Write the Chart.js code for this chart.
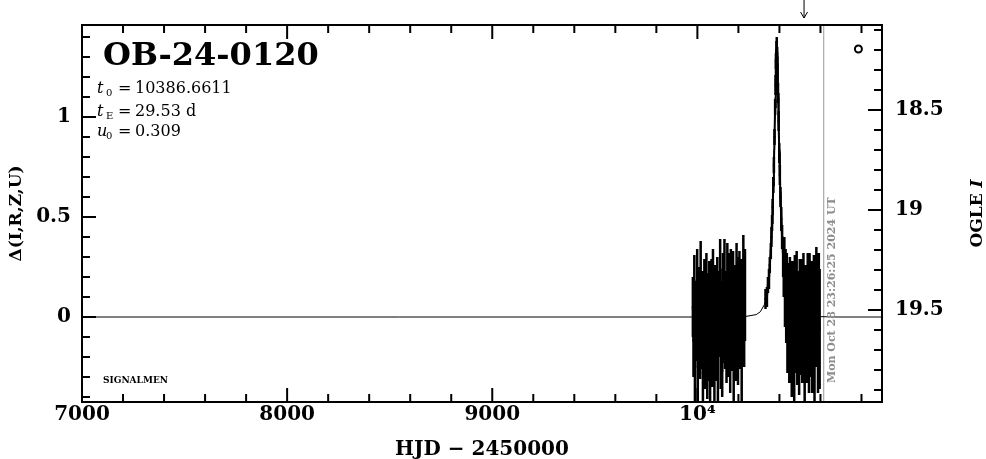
<!DOCTYPE html>
<html lang="en">
<head>
<meta charset="UTF-8">
<title>OB-24-0120</title>
<script src="https://cdn.jsdelivr.net/npm/chart.js"></script>
<style>
  html, body { margin: 0; padding: 0; background: #fff; }
  canvas { display: block; }
</style>
</head>
<body>
<canvas id="lc" width="986" height="459"></canvas>
<script>
// OGLE photometry, 2023 season (baseline)
const hjd2023 = [9978, 9981, 9985, 9988, 9992, 9995, 9999, 10002, 10006, 10009,
  10013, 10016, 10020, 10023, 10027, 10030, 10034, 10037, 10041, 10044,
  10048, 10051, 10055, 10058, 10062, 10065, 10069, 10072, 10076, 10079,
  10083, 10086, 10090, 10093, 10097, 10100, 10104, 10107, 10111, 10114,
  10118, 10121, 10125, 10128, 10132, 10135, 10139, 10142, 10146, 10149,
  10153, 10156, 10160, 10163, 10167, 10170, 10174, 10177, 10181, 10184,
  10188, 10191, 10195, 10198, 10202, 10205, 10209, 10212, 10216, 10220,
  10224, 10228, 10232];
const dmag2023 = [0.05, -0.12, 0.18, -0.21, 0.02, -0.08, 0.15, -0.25, 0.10, -0.03,
  -0.18, 0.22, -0.06, 0.08, -0.28, 0.04, 0.12, -0.15, -0.01, 0.19,
  -0.22, 0.06, -0.10, 0.14, -0.30, 0.00, 0.09, -0.17, 0.21, -0.05,
  -0.24, 0.11, 0.03, -0.13, 0.16, -0.20, 0.07, -0.02, 0.24, -0.16,
  0.01, -0.27, 0.13, -0.07, 0.18, -0.11, 0.05, -0.19, 0.20, -0.04,
  -0.14, 0.10, -0.23, 0.15, 0.02, -0.09, 0.17, -0.26, 0.06, 0.12,
  -0.12, 0.22, -0.03, -0.18, 0.08, 0.19, -0.08, 0.14, -0.21, 0.04,
  0.25, -0.06, 0.11];
const err2023 = [0.15, 0.18, 0.13, 0.21, 0.16, 0.14, 0.19, 0.17, 0.15, 0.22,
  0.13, 0.16, 0.20, 0.15, 0.18, 0.14, 0.17, 0.21, 0.15, 0.13,
  0.19, 0.16, 0.22, 0.14, 0.17, 0.15, 0.20, 0.18, 0.13, 0.16,
  0.21, 0.15, 0.17, 0.19, 0.14, 0.22, 0.16, 0.18, 0.15, 0.20,
  0.17, 0.13, 0.19, 0.16, 0.21, 0.15, 0.18, 0.14, 0.17, 0.20,
  0.16, 0.22, 0.15, 0.19, 0.13, 0.18, 0.16, 0.21, 0.17, 0.14,
  0.20, 0.15, 0.19, 0.16, 0.22, 0.14, 0.18, 0.15, 0.21, 0.17,
  0.16, 0.19, 0.23];

// 2024 season (event and after)
const hjd2024 = [10332, 10339, 10344, 10349, 10353, 10358, 10361, 10364, 10367, 10370,
  10373, 10376, 10379, 10381, 10383, 10385, 10387, 10389, 10391, 10393,
  10396, 10399, 10402, 10405, 10409, 10413,
  10418, 10421, 10424, 10427, 10430, 10433, 10436, 10439, 10442, 10445,
  10448, 10451, 10454, 10457, 10460, 10463, 10466, 10469, 10472, 10475,
  10478, 10481, 10484, 10487, 10490, 10493, 10496, 10499, 10502, 10505,
  10508, 10511, 10514, 10517, 10520, 10523, 10526, 10529, 10532, 10535,
  10538, 10541, 10544, 10547, 10550, 10553, 10556, 10559, 10562, 10565,
  10568, 10571, 10574, 10577, 10580, 10584, 10588, 10592, 10596];
const dmag2024 = [0.09, 0.10, 0.16, 0.19, 0.26, 0.33, 0.40, 0.47, 0.55, 0.66,
  0.76, 0.90, 1.05, 1.16, 1.28, 1.33, 1.34, 1.30, 1.22, 1.12,
  0.98, 0.82, 0.71, 0.60, 0.49, 0.40,
  0.30, 0.22, 0.26, 0.12, 0.18, 0.05, 0.15, -0.08, 0.10, 0.02,
  -0.12, 0.14, -0.05, 0.08, -0.18, 0.11, -0.02, 0.06, -0.22, 0.13,
  -0.09, 0.03, 0.16, -0.14, 0.07, -0.04, -0.20, 0.12, 0.01, -0.11,
  0.09, -0.16, 0.05, 0.14, -0.07, -0.24, 0.10, -0.01, 0.06, -0.13,
  0.15, -0.05, -0.19, 0.08, 0.02, -0.10, 0.11, -0.15, 0.04, -0.03,
  0.13, -0.21, 0.07, -0.08, 0.10, -0.02, -0.17, 0.05, -0.06];
const err2024 = [0.05, 0.05, 0.04, 0.05, 0.04, 0.04, 0.05, 0.04, 0.04, 0.04,
  0.04, 0.04, 0.04, 0.05, 0.04, 0.05, 0.06, 0.05, 0.05, 0.05,
  0.05, 0.05, 0.05, 0.05, 0.06, 0.06,
  0.10, 0.12, 0.14, 0.17, 0.16, 0.18, 0.17, 0.20, 0.17, 0.19,
  0.21, 0.16, 0.19, 0.18, 0.22, 0.17, 0.20, 0.16, 0.23, 0.18,
  0.19, 0.21, 0.17, 0.20, 0.16, 0.24, 0.19, 0.17, 0.22, 0.18,
  0.20, 0.17, 0.23, 0.18, 0.21, 0.19, 0.16, 0.22, 0.18, 0.20,
  0.17, 0.21, 0.19, 0.24, 0.18, 0.20, 0.17, 0.23, 0.19, 0.21,
  0.18, 0.22, 0.20, 0.17, 0.25, 0.19, 0.21, 0.27, 0.30];

// fitted model curve
const modelHjd = [7000, 10086.7, 10236.7, 10286.7, 10306.7, 10326.7, 10336.7, 10346.7, 10351.7, 10356.7,
  10361.7, 10366.7, 10369.2, 10371.7, 10374.2, 10376.7, 10379.2, 10381.7, 10384.2, 10386.7,
  10389.2, 10391.7, 10394.2, 10396.7, 10399.2, 10401.7, 10404.2, 10406.7, 10411.7, 10416.7,
  10421.7, 10426.7, 10436.7, 10446.7, 10466.7, 10486.7, 10536.7, 10686.7, 10900];
const modelDmag = [0, 0, 0.003, 0.012, 0.026, 0.062, 0.100, 0.170, 0.223, 0.297,
  0.398, 0.536, 0.623, 0.723, 0.837, 0.964, 1.099, 1.228, 1.327, 1.366,
  1.327, 1.228, 1.099, 0.964, 0.837, 0.723, 0.623, 0.536, 0.398, 0.297,
  0.223, 0.170, 0.100, 0.062, 0.026, 0.012, 0.003, 0, 0];

const xTicks = [7000, 8000, 9000, 10000];
const yTicks = [0, 0.5, 1];
const iTicks = [18.5, 19, 19.5];
const xMin = 7000, xMax = 10900;
const yMin = -0.425, yMax = 1.46;
const iBase = 19.535;      // OGLE I where delta = 0
const lastObs = 10616;     // grey line, time of last update
const arrowHjd = 10520;
const legendMark = [{x: 10785, y: 1.34}];

const eventName = 'OB-24-0120';
const params = [['t', '0', '10386.6611'], ['t', 'E', '29.53 d'], ['u', '0', '0.309']];
const stamp = 'Mon Oct 28 23:26:25 2024 UT';

function pts(h, d) {
  return h.map((t, i) => ({x: t, y: d[i]}));
}
function bars(h, d, e) {
  const out = [];
  h.forEach((t, i) => {
    out.push({x: t, y: d[i] - e[i]}, {x: t, y: d[i] + e[i]}, {x: t, y: null});
  });
  return out;
}

const tickFont = {family: 'DejaVu Serif', weight: 'bold', size: 20};

const frame = {
  id: 'frame',
  afterDraw(chart) {
    const {ctx, chartArea: a} = chart;
    const {x, y, y2} = chart.scales;
    ctx.save();
    ctx.strokeStyle = '#000';
    ctx.lineWidth = 2;
    ctx.strokeRect(a.left, a.top, a.right - a.left, a.bottom - a.top);

    // inward ticks
    ctx.beginPath();
    for (let k = 35; k <= 54; k++) {
      const px = x.getPixelForValue(k * 200);
      const len = k % 5 === 0 ? 14 : 8;
      ctx.moveTo(px, a.bottom); ctx.lineTo(px, a.bottom - len);
      ctx.moveTo(px, a.top); ctx.lineTo(px, a.top + len);
    }
    for (let k = -4; k <= 14; k++) {
      const py = y.getPixelForValue(k / 10);
      const len = k % 5 === 0 ? 14 : 8;
      ctx.moveTo(a.left, py); ctx.lineTo(a.left + len, py);
    }
    for (let k = 181; k <= 199; k++) {
      const py = y2.getPixelForValue(k / 10);
      const len = k % 5 === 0 ? 14 : 8;
      ctx.moveTo(a.right, py); ctx.lineTo(a.right - len, py);
    }
    ctx.stroke();

    // arrow above the frame
    const ax = x.getPixelForValue(arrowHjd);
    ctx.lineWidth = 1;
    ctx.beginPath();
    ctx.moveTo(ax, 0); ctx.lineTo(ax, 18);
    ctx.moveTo(ax - 3.5, 12); ctx.lineTo(ax, 18); ctx.lineTo(ax + 3.5, 12);
    ctx.stroke();

    // labels inside the plot
    ctx.fillStyle = '#000';
    ctx.textBaseline = 'alphabetic';
    ctx.font = 'bold 32px "DejaVu Serif"';
    ctx.fillText(eventName, 103, 65);

    const base = [93, 116, 136];
    params.forEach((p, i) => {
      ctx.font = 'italic 16px "DejaVu Serif"';
      ctx.fillText(p[0], 97, base[i]);
      ctx.font = '10px "DejaVu Serif"';
      ctx.fillText(p[1], 106, base[i] + 3);
      ctx.font = '16px "DejaVu Serif"';
      ctx.fillText('=', 118, base[i]);
      ctx.fillText(p[2], 135, base[i]);
    });

    ctx.font = 'bold 9px "DejaVu Serif"';
    ctx.fillText('SIGNALMEN', 103, 383);

    // date stamp along the grey line
    const gx = x.getPixelForValue(lastObs);
    ctx.save();
    ctx.translate(gx + 11, a.bottom - 19);
    ctx.rotate(-Math.PI / 2);
    ctx.fillStyle = '#8c8c8c';
    ctx.font = 'bold 11px "DejaVu Serif"';
    ctx.fillText(stamp, 0, 0);
    ctx.restore();

    // right axis title, reading upwards
    ctx.save();
    ctx.translate(982, (a.top + a.bottom) / 2);
    ctx.rotate(-Math.PI / 2);
    ctx.font = 'bold 17px "DejaVu Serif"';
    const w1 = ctx.measureText('OGLE ').width;
    ctx.font = 'bold italic 17px "DejaVu Serif"';
    const w2 = ctx.measureText('I').width;
    ctx.font = 'bold 17px "DejaVu Serif"';
    ctx.fillText('OGLE ', -(w1 + w2) / 2, 0);
    ctx.font = 'bold italic 17px "DejaVu Serif"';
    ctx.fillText('I', -(w1 + w2) / 2 + w1, 0);
    ctx.restore();

    ctx.restore();
  }
};

new Chart(document.getElementById('lc'), {
  type: 'scatter',
  data: {
    datasets: [
      {
        // error bars
        data: bars(hjd2023, dmag2023, err2023).concat(bars(hjd2024, dmag2024, err2024)),
        showLine: true,
        spanGaps: false,
        borderColor: '#000',
        borderWidth: 2.5,
        pointRadius: 0
      },
      {
        // measurements joined within each season
        data: pts(hjd2023, dmag2023).concat([{x: 10280, y: null}], pts(hjd2024, dmag2024)),
        showLine: true,
        spanGaps: false,
        borderColor: '#000',
        borderWidth: 2,
        pointStyle: 'rect',
        pointRadius: 1.5,
        pointBackgroundColor: '#000',
        pointBorderWidth: 0
      },
      {
        // model
        data: pts(modelHjd, modelDmag),
        showLine: true,
        borderColor: '#000',
        borderWidth: 1,
        pointRadius: 0
      },
      {
        data: [{x: lastObs, y: yMin}, {x: lastObs, y: yMax}],
        showLine: true,
        borderColor: '#999',
        borderWidth: 1,
        pointRadius: 0
      },
      {
        data: legendMark,
        pointStyle: 'circle',
        pointRadius: 3.5,
        borderWidth: 2,
        borderColor: '#000',
        backgroundColor: '#fff'
      }
    ]
  },
  options: {
    responsive: false,
    animation: false,
    layout: {padding: {top: 25, left: 0, right: 0, bottom: 0}},
    plugins: {legend: {display: false}, tooltip: {enabled: false}},
    scales: {
      x: {
        type: 'linear',
        min: xMin,
        max: xMax,
        grid: {display: false},
        border: {display: false},
        afterBuildTicks: s => { s.ticks = xTicks.map(v => ({value: v})); },
        afterFit: s => { s.height = 57; },
        ticks: {
          font: tickFont,
          color: '#000',
          padding: -7,
          maxRotation: 0,
          callback: v => v === 10000 ? '10\u2074' : String(v)
        },
        title: {
          display: true,
          text: 'HJD \u2212 2450000',
          color: '#000',
          font: {family: 'DejaVu Serif', weight: 'bold', size: 20, lineHeight: 1},
          padding: {top: 0, bottom: -1}
        }
      },
      y: {
        type: 'linear',
        position: 'left',
        min: yMin,
        max: yMax,
        grid: {display: false},
        border: {display: false},
        afterBuildTicks: s => { s.ticks = yTicks.map(v => ({value: v})); },
        afterFit: s => { s.width = 82; },
        ticks: {font: tickFont, color: '#000', padding: 3, callback: v => String(v)},
        title: {
          display: true,
          text: '\u0394(I,R,Z,U)',
          color: '#000',
          font: {family: 'DejaVu Serif', weight: 'bold', size: 17},
          padding: {top: 6, bottom: 0}
        }
      },
      y2: {
        type: 'linear',
        position: 'right',
        reverse: true,
        min: iBase - yMax,
        max: iBase - yMin,
        grid: {display: false},
        border: {display: false},
        afterBuildTicks: s => { s.ticks = iTicks.map(v => ({value: v})); },
        afterFit: s => { s.width = 104; },
        ticks: {font: tickFont, color: '#000', padding: 5, callback: v => String(v)}
      }
    }
  },
  plugins: [frame]
});
</script>
</body>
</html>
